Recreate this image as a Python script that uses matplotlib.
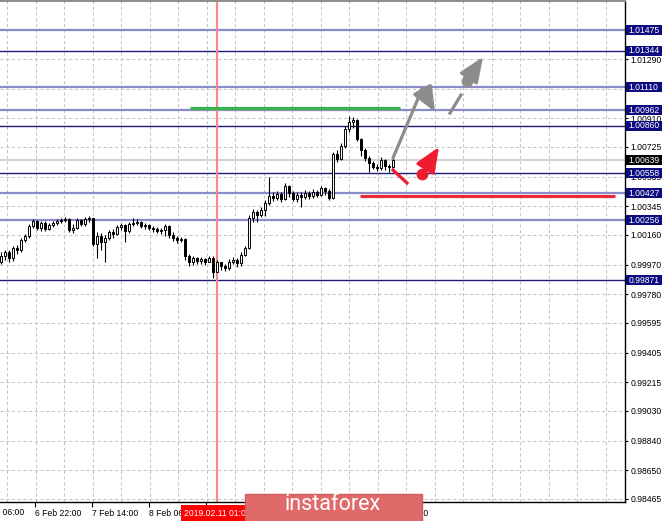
import matplotlib
matplotlib.use('Agg')
import matplotlib.pyplot as plt
import numpy as np
from matplotlib.patches import Rectangle

# ---------------- data ----------------
first_open = 0.99987
closes = [1.00025, 1.00051, 1.00012, 1.00076, 1.00064, 1.00128, 1.00153, 1.00218, 1.00250, 1.00205,
          1.00237, 1.00198, 1.00224, 1.00237, 1.00250, 1.00256, 1.00263, 1.00192, 1.00205, 1.00256,
          1.00230, 1.00263, 1.00269, 1.00102, 1.00153, 1.00115, 1.00141, 1.00179, 1.00166, 1.00211,
          1.00224, 1.00186, 1.00230, 1.00237, 1.00243, 1.00218, 1.00224, 1.00205, 1.00198, 1.00186,
          1.00192, 1.00218, 1.00160, 1.00141, 1.00128, 1.00134, 1.00025, 0.99987, 1.00012, 0.99993,
          1.00006, 0.99987, 1.00012, 0.99922, 0.99987, 0.99961, 0.99948, 0.99987, 0.99999, 0.99980,
          1.00031, 1.00076, 1.00269, 1.00307, 1.00288, 1.00320, 1.00365, 1.00410, 1.00397, 1.00423,
          1.00391, 1.00474, 1.00429, 1.00391, 1.00417, 1.00404, 1.00429, 1.00410, 1.00436, 1.00417,
          1.00462, 1.00442, 1.00397, 1.00680, 1.00648, 1.00731, 1.00840, 1.00885, 1.00898, 1.00776,
          1.00706, 1.00654, 1.00622, 1.00596, 1.00590, 1.00641, 1.00603, 1.00596, 1.00639]
highs = [1.00051, 1.00064, 1.00064, 1.00089, 1.00096, 1.00141, 1.00166, 1.00230, 1.00263, 1.00256,
         1.00250, 1.00250, 1.00237, 1.00250, 1.00263, 1.00269, 1.00275, 1.00269, 1.00230, 1.00269,
         1.00263, 1.00275, 1.00282, 1.00269, 1.00179, 1.00173, 1.00160, 1.00192, 1.00198, 1.00224,
         1.00237, 1.00230, 1.00243, 1.00269, 1.00263, 1.00250, 1.00237, 1.00230, 1.00218, 1.00211,
         1.00205, 1.00230, 1.00224, 1.00179, 1.00153, 1.00147, 1.00141, 1.00038, 1.00025, 1.00019,
         1.00019, 1.00012, 1.00025, 1.00025, 0.99999, 0.99987, 0.99974, 1.00006, 1.00019, 1.00012,
         1.00051, 1.00089, 1.00288, 1.00327, 1.00320, 1.00340, 1.00385, 1.00532, 1.00436, 1.00442,
         1.00436, 1.00494, 1.00481, 1.00442, 1.00436, 1.00436, 1.00449, 1.00442, 1.00455, 1.00449,
         1.00474, 1.00468, 1.00455, 1.00693, 1.00706, 1.00751, 1.00860, 1.00924, 1.00918, 1.00905,
         1.00783, 1.00718, 1.00667, 1.00635, 1.00616, 1.00661, 1.00648, 1.00616, 1.00654]
lows = [0.99974, 0.99999, 0.99987, 0.99993, 1.00038, 1.00051, 1.00115, 1.00141, 1.00205, 1.00192,
        1.00186, 1.00186, 1.00192, 1.00211, 1.00224, 1.00237, 1.00243, 1.00179, 1.00173, 1.00198,
        1.00218, 1.00218, 1.00243, 1.00089, 1.00012, 1.00064, 0.99987, 1.00128, 1.00141, 1.00160,
        1.00192, 1.00115, 1.00173, 1.00218, 1.00224, 1.00205, 1.00198, 1.00192, 1.00179, 1.00173,
        1.00166, 1.00153, 1.00141, 1.00121, 1.00109, 1.00115, 0.99999, 0.99961, 0.99967, 0.99974,
        0.99974, 0.99967, 0.99987, 0.99884, 0.99922, 0.99935, 0.99929, 0.99935, 0.99974, 0.99954,
        0.99961, 1.00025, 1.00070, 1.00243, 1.00243, 1.00275, 1.00282, 1.00352, 1.00378, 1.00385,
        1.00372, 1.00385, 1.00404, 1.00378, 1.00372, 1.00340, 1.00391, 1.00391, 1.00397, 1.00404,
        1.00410, 1.00417, 1.00385, 1.00391, 1.00629, 1.00641, 1.00718, 1.00821, 1.00847, 1.00763,
        1.00667, 1.00635, 1.00564, 1.00584, 1.00571, 1.00577, 1.00577, 1.00564, 1.00590]

current_price = 1.00639
levels_light = [1.01475, 1.01110, 1.00962, 1.00427, 1.00256]
levels_dark = [1.01344, 1.00860, 1.00558, 0.99871]
level_labels = ['1.01475', '1.01344', '1.01110', '1.00962', '1.00860', '1.00558', '1.00427', '1.00256', '0.99871']
level_values = [1.01475, 1.01344, 1.01110, 1.00962, 1.00860, 1.00558, 1.00427, 1.00256, 0.99871]
price_ticks = [1.01475, 1.01290, 1.01100, 1.00910, 1.00725, 1.00535, 1.00345, 1.00160, 0.99970,
               0.99780, 0.99595, 0.99405, 0.99215, 0.99030, 0.98840, 0.98650, 0.98465]
# labels fully hidden under level boxes in the original are left blank
price_tick_labels = ['', '1.01290', '', '1.00910', '1.00725', '1.00535', '1.00345', '1.00160',
                     '0.99970', '0.99780', '0.99595', '0.99405', '0.99215', '0.99030', '0.98840', '0.98650', '0.98465']
first_time_bar = -5.75
first_time_label = '5 Feb 06:00'
time_tick_bars = [8.5, 22.75, 37.0, 51.25, 65.5, 79.75, 94.0]
# the label under the red date box is hidden in the original
time_tick_labels = ['6 Feb 22:00', '7 Feb 14:00', '8 Feb 06:00', '',
                    '11 Feb 14:00', '12 Feb 06:00', '12 Feb 22:00']
grid_bars = [1.5 + 7.125 * k for k in range(22)]
marker_bar = 54
marker_label = '2019.02.11 01:00'

green_level = (47.25, 99.75, 1.00978)
red_level = (89.75, 153.5, 1.00412)
gray_path_x = [98.0, 105.25]
gray_path_y = [1.00654, 1.01097]
gray_head = ((105.25, 1.01097), (108.5, 1.00950))
gray_dash = ((112.25, 1.00943), (115.0, 1.01059))
gray_dot = (116.5, 1.01149)
gray_head2 = ((116.5, 1.01149), (120.5, 1.01303))
red_seg = ((98.0, 1.00577), (101.5, 1.00494))
red_dot = (105.25, 1.00552)
red_head = ((105.25, 1.00552), (109.5, 1.00725))

# ---------------- figure ----------------
W, H = 665, 521
fig = plt.figure(figsize=(W / 100, H / 100), dpi=100)
fig.patch.set_facecolor('white')
ax_l, ax_r, ax_t, ax_b = 0, 625, 1, 502
ax = fig.add_axes([ax_l / W, (H - ax_b) / H, (ax_r - ax_l) / W, (ax_b - ax_t) / H])

font = 'Liberation Sans'
fs = 6.2

# grid
for p in price_ticks:
    ax.axhline(p, color='#c4c4c4', lw=0.75, ls=(0, (3, 2.5)), zorder=0.5)
for g in grid_bars:
    ax.axvline(g, color='#c4c4c4', lw=0.75, ls=(0, (3, 2.5)), zorder=0.5)

# levels
for lv in levels_light:
    ax.axhline(lv, color='#8a8acc', lw=1.6, zorder=1)
for lv in levels_dark:
    ax.axhline(lv, color='#1c1c78', lw=1.0, zorder=1)
ax.axhline(current_price, color='#d0d0d0', lw=1.4, zorder=0.8)

# marker vertical line
ax.axvline(marker_bar, color='#f58a8a', lw=1.6, zorder=1.2)

# candles
opens = [first_open] + closes[:-1]
n = len(closes)
xs = np.arange(n)
o = np.array(opens); c = np.array(closes)
h = np.maximum(np.array(highs), np.maximum(o, c))
l = np.minimum(np.array(lows), np.minimum(o, c))
ax.vlines(xs, l, h, color='black', lw=0.8, zorder=3)
bull = c >= o
bw = 0.55
ax.bar(xs[bull], (c - o)[bull], bottom=o[bull], width=bw, facecolor='white', edgecolor='black', lw=0.7, zorder=4)
ax.bar(xs[~bull], (c - o)[~bull], bottom=o[~bull], width=bw, facecolor='black', edgecolor='black', lw=0.7, zorder=4)

# green and red horizontal drawings
ax.hlines(green_level[2], green_level[0], green_level[1], color='#38b54a', lw=2.3, zorder=5)
ax.hlines(red_level[2], red_level[0], red_level[1], color='#ee2a3a', lw=2.3, zorder=5)

gray = '#8c8c8c'
redc = '#ee1c2e'
alw = 2.3
aprops = '-|>,head_length=0.95,head_width=0.4'
ax.plot(gray_path_x, gray_path_y, color=gray, lw=alw, solid_capstyle='round', zorder=6)
ax.annotate('', xy=gray_head[1], xytext=gray_head[0],
            arrowprops=dict(arrowstyle=aprops, color=gray, lw=alw,
                            mutation_scale=16, shrinkA=0, shrinkB=0), zorder=6)
ax.plot([gray_dash[0][0], gray_dash[1][0]], [gray_dash[0][1], gray_dash[1][1]], color=gray, lw=alw, zorder=6)
ax.plot([gray_dot[0]], [gray_dot[1]], 'o', color=gray, ms=7.5, zorder=6)
ax.annotate('', xy=gray_head2[1], xytext=gray_head2[0],
            arrowprops=dict(arrowstyle=aprops, color=gray, lw=alw,
                            mutation_scale=16, shrinkA=0, shrinkB=0), zorder=6)
ax.plot([red_seg[0][0], red_seg[1][0]], [red_seg[0][1], red_seg[1][1]], color=redc, lw=alw, zorder=6)
ax.plot([red_dot[0]], [red_dot[1]], 'o', color=redc, ms=7.5, zorder=6)
ax.annotate('', xy=red_head[1], xytext=red_head[0],
            arrowprops=dict(arrowstyle=aprops, color=redc, lw=alw,
                            mutation_scale=16, shrinkA=0, shrinkB=0), zorder=6)

# spines
ax.spines['left'].set_visible(False)
ax.spines['top'].set_color('#8c8c8c')
ax.spines['top'].set_linewidth(1.4)
ax.spines['right'].set_color('black')
ax.spines['bottom'].set_color('black')
ax.spines['right'].set_linewidth(1.0)
ax.spines['bottom'].set_linewidth(1.0)

# y ticks
ax.yaxis.tick_right()
ax.set_yticks(price_ticks)
ax.set_yticklabels(price_tick_labels, fontsize=fs, family=font)
ax.tick_params(axis='y', length=2.5, width=0.8, pad=1.5, direction='out', colors='black')
# x ticks
ax.set_xticks(time_tick_bars)
ax.set_xticklabels(time_tick_labels, fontsize=fs, family=font, ha='left')
ax.tick_params(axis='x', length=3.5, width=0.8, pad=1.5, direction='out', colors='black')

# limits (after ticks, so that ticks don't widen the view)
ax.set_xlim(-0.25, 156.0)
ax.set_ylim(0.984457, 1.016624)

# first (clipped) time label at the left edge
xtr = ax.get_xaxis_transform()
ax.text(first_time_bar, -0.0125, first_time_label, transform=xtr, fontsize=fs, family=font,
        ha='left', va='top', clip_on=False)

# level label boxes
ytr = ax.get_yaxis_transform()
box_h = 10 / 15575
for val, lab in zip(level_values, level_labels):
    ax.add_patch(Rectangle((626 / 625, val - box_h / 2), 36 / 625, box_h, transform=ytr,
                           facecolor='#0c0c80', edgecolor='none', clip_on=False, zorder=10))
    ax.text(628.5 / 625, val, lab, transform=ytr, color='white', fontsize=fs, family=font,
            va='center', ha='left', clip_on=False, zorder=11)
ax.add_patch(Rectangle((626 / 625, current_price - box_h / 2), 36 / 625, box_h, transform=ytr,
                       facecolor='black', edgecolor='none', clip_on=False, zorder=10))
ax.text(628.5 / 625, current_price, '1.00639', transform=ytr, color='white', fontsize=fs, family=font,
        va='center', ha='left', clip_on=False, zorder=11)

# date marker label
fig.add_artist(Rectangle((181 / W, 0), 67 / W, 16 / H, transform=fig.transFigure,
                         facecolor='#ff0000', edgecolor='none', zorder=10))
fig.text(183.5 / W, (H - 513) / H, marker_label, color='white', fontsize=fs, family=font,
         va='center', ha='left', zorder=11)

# logo
fig.add_artist(Rectangle((245 / W, -0.01), (422 - 245) / W, 32 / H, transform=fig.transFigure,
                         facecolor='#e06a6a', edgecolor='#d05c5c', lw=1, zorder=20))
fig.text(333 / W, (H - 505) / H, 'instaforex', color='white', fontsize=15.5, family='Roboto',
         fontweight='normal', va='center', ha='center', zorder=21)

fig.savefig('out.png', dpi=100, facecolor='white')
